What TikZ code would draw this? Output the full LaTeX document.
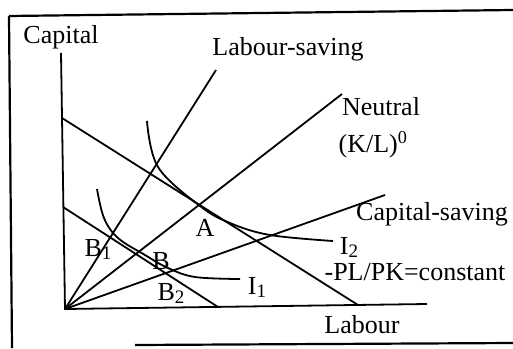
\documentclass[tikz,border=0pt]{standalone}
\usepackage{fontspec}
\setmainfont{Liberation Serif}
\newcommand{\mysub}[1]{\raisebox{-3pt}{\fontsize{19}{19}\selectfont #1}}
\begin{document}
\begin{tikzpicture}[x=1pt,y=-1pt,
  ln/.style={line width=1.8pt,black},
  fr/.style={line width=2.2pt,black},
  lbl/.style={inner sep=0pt,font=\fontsize{26}{30}\selectfont}]
\useasboundingbox (0,0) rectangle (513,348);
% frame
\draw[fr] (9,16) -- (513,10);
\draw[fr] (9,16) -- (12,348);
\draw[fr] (135,345) -- (513,343);
% axes
\coordinate (O) at (65,309);
\coordinate (Ytop) at (61,53);
\coordinate (Xend) at (427,304);
\draw[ln] (Ytop) -- (O) -- (Xend);
% rays
\coordinate (LS) at (216,70);
\coordinate (NE) at (342,94);
\coordinate (CS) at (385,195);
\draw[ln] (O) -- (LS);
\draw[ln] (O) -- (NE);
\draw[ln] (O) -- (CS);
% budget lines
\coordinate (U1) at (62,118);
\coordinate (U2) at (358,305);
\coordinate (L1) at (63,207);
\coordinate (L2) at (218,307);
\draw[ln] (U1) -- (U2);
\draw[ln] (L1) -- (L2);
% isoquants
\draw[ln] plot[smooth,tension=0.6] coordinates {(147,121) (158,167) (200,206) (230,223) (270,235) (333,241)};
\draw[ln] plot[smooth,tension=0.6] coordinates {(97,189) (104,218) (118,238) (145,255) (168,268) (195,277) (240,279)};
% labels
\node[lbl] (tcap) at (61,37) {Capital};
\node[lbl] (tls) at (288,49) {Labour-saving};
\node[lbl] (tne) at (381,107) {Neutral};
\node[lbl] (tkl) at (373,145) {(K/L)\textsuperscript{0}};
\node[lbl] (tcs) at (432,214) {Capital-saving};
\node[lbl] (ti2) at (349,247) {I\mysub{2}};
\node[lbl] (tpl) at (415,272) {-PL/PK=constant};
\node[lbl] (ti1) at (257,287) {I\mysub{1}};
\node[lbl] (tlab) at (362,325) {Labour};
\node[lbl] (tA) at (205,228) {A};
\node[lbl] (tB1) at (98,249) {B\mysub{1}};
\node[lbl] (tB) at (161,261) {B};
\node[lbl] (tB2) at (171,293) {B\mysub{2}};
\end{tikzpicture}
\end{document}
